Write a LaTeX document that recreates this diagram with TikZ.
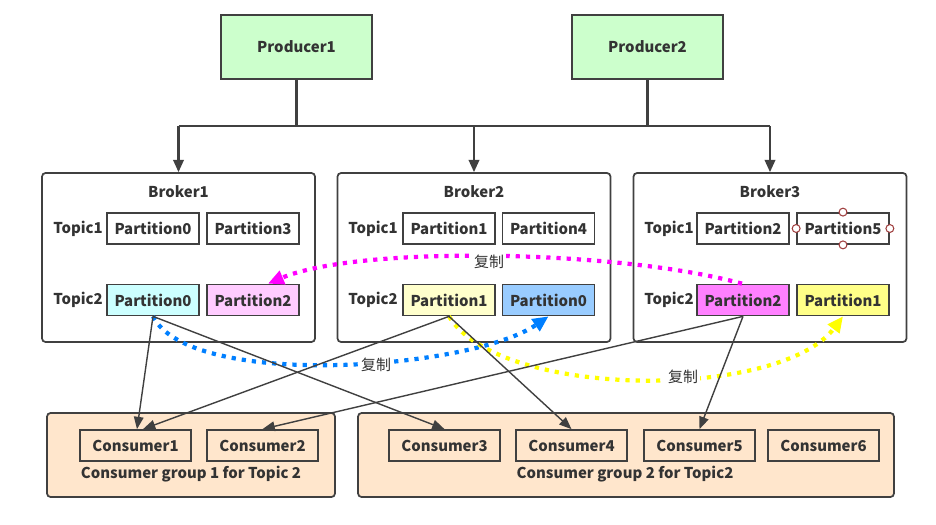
\documentclass[tikz,border=0pt]{standalone}
\usepackage{fontspec}
\setmainfont{Noto Sans CJK SC}
\usetikzlibrary{arrows.meta}
\definecolor{edge}{HTML}{404040}
\definecolor{txt}{HTML}{333333}
\definecolor{prodgreen}{HTML}{CCFFCC}
\definecolor{grppeach}{HTML}{FFE6CC}
\definecolor{cyanp}{HTML}{CCFFFF}
\definecolor{pinkp}{HTML}{FFCCFF}
\definecolor{lyellowp}{HTML}{FFFFCC}
\definecolor{bluep}{HTML}{99CCFF}
\definecolor{magp}{HTML}{FF80FF}
\definecolor{yellowp}{HTML}{FFFF88}
\definecolor{replmag}{HTML}{FF00FF}
\definecolor{replblue}{HTML}{007FFF}
\definecolor{replyellow}{HTML}{FFFF00}
\definecolor{handle}{HTML}{A04040}
\begin{document}
\begin{tikzpicture}[x=0.02cm, y=-0.02cm, text=txt,
  font=\fontsize{8.5}{10}\selectfont\bfseries,
  prod/.style={draw=edge, line width=1pt, fill=prodgreen, minimum width=3.02cm, minimum height=1.28cm},
  broker/.style={draw=edge, line width=1pt, rounded corners=2pt, minimum width=5.46cm, minimum height=3.38cm},
  part/.style={draw=edge, line width=1pt, fill=white, minimum width=1.84cm, minimum height=0.62cm, inner sep=0pt},
  cons/.style={draw=edge, line width=1pt, minimum width=2.22cm, minimum height=0.62cm, inner sep=0pt},
  grp/.style={draw=edge, line width=1pt, rounded corners=2pt, fill=grppeach, minimum height=1.68cm},
  feed/.style={draw=edge, line width=1.2pt, -{Triangle[length=7pt, width=6pt]}},
  link/.style={draw=edge, line width=0.8pt, -{Triangle[length=7pt, width=5.5pt]}},
  repl/.style={line width=2.4pt, dash pattern=on 2.4pt off 3.4pt, -{Triangle[length=9pt, width=8pt]}},
  tag/.style={fill=white, inner sep=1pt, font=\fontsize{8.5}{10}\selectfont},
  handle/.style={circle, draw=handle, fill=white, line width=0.6pt, inner sep=0pt, minimum size=4.5pt}]
  \useasboundingbox (0,0) rectangle (936,524);

  % Producers
  \node[prod] (P1) at (296.5,47) {Producer1};
  \node[prod] (P2) at (647.5,47) {Producer2};

  % Brokers
  \node[broker] (B1) at (178.5,257.5) {};
  \node[broker] (B2) at (474,257.5) {};
  \node[broker] (B3) at (770,257.5) {};
  \node (B1l) at (178.5,192) {Broker1};
  \node (B2l) at (474,192) {Broker2};
  \node (B3l) at (770,192) {Broker3};

  % Producers feed every broker
  \coordinate (bus) at (0,126);
  \draw[draw=edge, line width=1.2pt] (P1.south) -- (P1.south |- bus);
  \draw[draw=edge, line width=1.2pt] (P2.south) -- (P2.south |- bus);
  \draw[draw=edge, line width=1.2pt] (B1.north |- bus) -- (B3.north |- bus);
  \draw[feed] (B1.north |- bus) -- (B1.north);
  \draw[feed] (B2.north |- bus) -- (B2.north);
  \draw[feed] (B3.north |- bus) -- (B3.north);

  % Broker1 partitions
  \node (b1t1) at (78,229) {Topic1};
  \node[part] (b1t1p0) at (153,228.5) {Partition0};
  \node[part] (b1t1p3) at (253,228.5) {Partition3};
  \node (b1t2) at (78,300) {Topic2};
  \node[part, fill=cyanp] (b1t2p0) at (153,300) {Partition0};
  \node[part, fill=pinkp] (b1t2p2) at (253,300) {Partition2};

  % Broker2 partitions
  \node (b2t1) at (373,229) {Topic1};
  \node[part] (b2t1p1) at (449,228.5) {Partition1};
  \node[part] (b2t1p4) at (548.5,228.5) {Partition4};
  \node (b2t2) at (373,300) {Topic2};
  \node[part, fill=lyellowp] (b2t2p1) at (449,300) {Partition1};
  \node[part, fill=bluep] (b2t2p0) at (548.5,300) {Partition0};

  % Broker3 partitions
  \node (b3t1) at (669,229) {Topic1};
  \node[part] (b3t1p2) at (743,228.5) {Partition2};
  \node[part] (b3t1p5) at (843,228.5) {Partition5};
  \node (b3t2) at (669,300) {Topic2};
  \node[part, fill=magp] (b3t2p2) at (743,300) {Partition2};
  \node[part, fill=yellowp] (b3t2p1) at (843,300) {Partition1};

  % selection handles on Partition5
  \node[handle] (h1) at (b3t1p5.north) {};
  \node[handle] (h2) at (b3t1p5.south) {};
  \node[handle] (h3) at (b3t1p5.west) {};
  \node[handle] (h4) at (b3t1p5.east) {};

  % Consumer groups
  \node[grp, minimum width=5.76cm] (G1) at (191,455) {};
  \node[grp, minimum width=10.72cm] (G2) at (626,455) {};
  \node[cons] (C1) at (135.5,445.5) {Consumer1};
  \node[cons] (C2) at (262.5,445.5) {Consumer2};
  \node[cons] (C3) at (444.5,445.5) {Consumer3};
  \node[cons] (C4) at (571.5,445.5) {Consumer4};
  \node[cons] (C5) at (699.5,445.5) {Consumer5};
  \node[cons] (C6) at (823.5,445.5) {Consumer6};
  \node (G1l) at (191,474) {Consumer group 1 for Topic 2};
  \node (G2l) at (625,474) {Consumer group 2 for Topic2};

  % Replication (dotted)
  \draw[repl, replmag] ([xshift=-0.02cm]b3t2p2.north) .. controls (620,250) and (360,245) .. ([xshift=0.3cm]b1t2p2.north);
  \draw[repl, replblue] (b1t2p0.south) .. controls (190,390) and (470,370) .. (b2t2p0.south);
  \draw[repl, replyellow] (b2t2p1.south) .. controls (500,400) and (780,400) .. (b3t2p1.south);
  \node[tag] (r1) at (489,262) {复制};
  \node[tag] (r2) at (376,365) {复制};
  \node[tag] (r3) at (683,377) {复制};

  % Consumption
  \draw[link] (b1t2p0.south) -- ([xshift=0.03cm]C1.north);
  \draw[link] (b1t2p0.south) -- (C3.north);
  \draw[link] (b2t2p1.south) -- ([xshift=0.15cm]C1.north);
  \draw[link] (b2t2p1.south) -- (C4.north);
  \draw[link] (b3t2p2.south) -- (C2.north);
  \draw[link] (b3t2p2.south) -- (C5.north);
\end{tikzpicture}
\end{document}
